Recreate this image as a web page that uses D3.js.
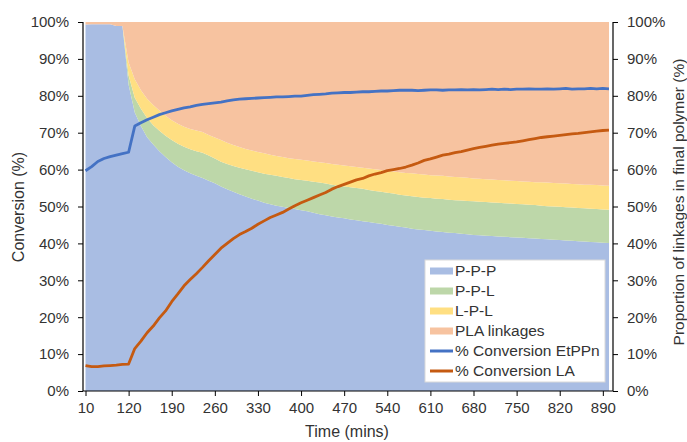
<!DOCTYPE html>
<html>
<head>
<meta charset="utf-8">
<script src="https://cdn.jsdelivr.net/npm/d3@7/dist/d3.min.js"></script>
<style>
  body { margin: 0; background: #fff; }
  svg text { font-family: "Liberation Sans", Arial, sans-serif; fill: #333; }
</style>
</head>
<body>
<svg id="chart" width="687" height="442"></svg>
<script>

// time points (mins), category axis
let times = [10, 25, 40, 55, 70, 85, 100, 120,
  130, 140, 150, 160, 170, 180, 190, 200, 210, 220, 230, 240, 250, 260, 270, 280, 290, 300,
  310, 320, 330, 340, 350, 360, 370, 380, 390, 400, 410, 420, 430, 440, 450, 460, 470, 480,
  490, 500, 510, 520, 530, 540, 550, 560, 570, 580, 590, 600, 610, 620, 630, 640, 650, 660,
  670, 680, 690, 700, 710, 720, 730, 740, 750, 760, 770, 780, 790, 800, 810, 820, 830, 840,
  850, 860, 870, 880, 890, 900];

// linkage proportions (%)
let ppp = [99.3, 99.4, 99.4, 99.4, 99.4, 98.9, 98.9, 83.0, 75.5, 71.8, 68.8, 66.8, 65.0, 63.4,
  62.0, 60.8, 59.8, 59.0, 58.3, 57.7, 57.0, 56.3, 55.4, 54.7, 54.0, 53.3, 52.7, 52.1, 51.6,
  51.0, 50.6, 50.2, 49.9, 49.6, 49.3, 49.0, 48.7, 48.3, 47.9, 47.6, 47.3, 47.0, 46.8, 46.5,
  46.3, 46.0, 45.8, 45.5, 45.3, 45.0, 44.8, 44.5, 44.3, 44.0, 43.8, 43.6, 43.4, 43.2, 43.1,
  42.9, 42.8, 42.6, 42.5, 42.3, 42.2, 42.1, 42.0, 41.9, 41.8, 41.7, 41.6, 41.5, 41.4, 41.3,
  41.2, 41.1, 41.0, 40.9, 40.8, 40.7, 40.6, 40.5, 40.4, 40.3, 40.2, 40.1];
let ppl = [0, 0, 0, 0, 0, 0, 0, 2.5, 4.0, 4.7, 5.2, 5.2, 5.5, 5.8, 6.0, 6.2, 6.4, 6.5, 6.7, 6.9,
  6.8, 6.7, 6.7, 6.8, 7.0, 7.2, 7.4, 7.6, 7.7, 7.9, 8.0, 8.1, 8.1, 8.1, 8.1, 8.2, 8.3, 8.4,
  8.6, 8.6, 8.6, 8.6, 8.6, 8.7, 8.7, 8.8, 8.7, 8.7, 8.7, 8.7, 8.7, 8.7, 8.7, 8.8, 8.8, 8.8,
  8.9, 8.9, 8.9, 8.9, 8.9, 9.0, 9.0, 9.1, 9.1, 9.1, 9.1, 9.1, 9.1, 9.1, 9.1, 9.1, 9.1, 9.1,
  9.0, 9.0, 9.0, 9.0, 9.0, 9.0, 9.0, 9.0, 9.0, 9.0, 9.0, 9.0];
let lpl = [0, 0, 0, 0, 0, 0, 0, 3.5, 5.0, 5.0, 5.2, 5.5, 5.5, 5.4, 5.4, 5.4, 5.4, 5.5, 5.6, 5.6,
  5.6, 5.7, 5.9, 5.8, 5.7, 5.6, 5.5, 5.5, 5.5, 5.5, 5.4, 5.4, 5.4, 5.4, 5.5, 5.5, 5.5, 5.5,
  5.5, 5.6, 5.6, 5.7, 5.7, 5.7, 5.7, 5.7, 5.8, 5.9, 5.9, 6.0, 6.0, 6.1, 6.1, 6.2, 6.2, 6.3,
  6.2, 6.3, 6.3, 6.3, 6.3, 6.3, 6.3, 6.2, 6.2, 6.2, 6.2, 6.2, 6.2, 6.2, 6.2, 6.2, 6.2, 6.2,
  6.4, 6.4, 6.4, 6.4, 6.4, 6.4, 6.4, 6.4, 6.5, 6.5, 6.5, 6.5];
let pla = [0.7, 0.6, 0.6, 0.6, 0.6, 1.1, 1.1, 11.0, 15.5, 18.5, 20.8, 22.5, 24.0, 25.4, 26.6,
  27.6, 28.4, 29.0, 29.4, 29.8, 30.6, 31.3, 32.0, 32.7, 33.3, 33.9, 34.4, 34.8, 35.2, 35.6,
  36.0, 36.3, 36.6, 36.9, 37.1, 37.3, 37.5, 37.8, 38.0, 38.2, 38.5, 38.7, 38.9, 39.1, 39.3,
  39.5, 39.7, 39.9, 40.1, 40.3, 40.5, 40.7, 40.9, 41.0, 41.2, 41.3, 41.5, 41.6, 41.7, 41.9,
  42.0, 42.1, 42.2, 42.4, 42.5, 42.6, 42.7, 42.8, 42.9, 43.0, 43.1, 43.2, 43.3, 43.4, 43.4,
  43.5, 43.6, 43.7, 43.8, 43.9, 44.0, 44.1, 44.1, 44.2, 44.3, 44.4];

// conversions (%)
let convEtPPn = [59.7, 60.8, 62.2, 63.0, 63.5, 63.9, 64.3, 64.7, 71.8, 72.7, 73.5, 74.2, 74.9,
  75.4, 75.9, 76.3, 76.7, 77.0, 77.4, 77.7, 77.9, 78.1, 78.3, 78.6, 78.9, 79.1, 79.2, 79.3,
  79.4, 79.5, 79.6, 79.7, 79.7, 79.8, 79.9, 79.9, 80.1, 80.3, 80.4, 80.5, 80.7, 80.8, 80.9,
  80.9, 81.0, 81.1, 81.1, 81.2, 81.3, 81.3, 81.4, 81.5, 81.5, 81.5, 81.4, 81.5, 81.6, 81.6,
  81.5, 81.6, 81.6, 81.7, 81.6, 81.7, 81.6, 81.7, 81.8, 81.7, 81.8, 81.7, 81.8, 81.8, 81.9,
  81.8, 81.8, 81.9, 81.8, 81.9, 82.0, 81.8, 81.9, 81.9, 82.0, 81.9, 82.0, 81.9];
let convLA = [6.9, 6.6, 6.6, 6.8, 6.9, 7.0, 7.2, 7.3, 11.5, 13.5, 15.8, 17.6, 19.8, 21.7, 24.2,
  26.3, 28.5, 30.2, 31.8, 33.5, 35.3, 37.0, 38.7, 40.0, 41.3, 42.4, 43.2, 44.1, 45.2, 46.1,
  47.0, 47.7, 48.4, 49.3, 50.2, 51.0, 51.7, 52.4, 53.1, 53.8, 54.7, 55.4, 56.0, 56.6, 57.2,
  57.6, 58.3, 58.8, 59.2, 59.7, 60.0, 60.3, 60.7, 61.2, 61.8, 62.5, 62.9, 63.4, 63.9, 64.2,
  64.6, 64.9, 65.3, 65.7, 66.0, 66.3, 66.6, 66.9, 67.1, 67.3, 67.5, 67.8, 68.1, 68.4, 68.7,
  68.9, 69.1, 69.3, 69.5, 69.7, 69.8, 70.0, 70.2, 70.4, 70.6, 70.7];

let yTicks = [0, 10, 20, 30, 40, 50, 60, 70, 80, 90, 100];

let areaNames = ["P-P-P", "P-P-L", "L-P-L", "PLA linkages"];
let areaColors = ["#a9bde3", "#bdd7a9", "#ffdf82", "#f7c3a0"];
let lineNames = ["% Conversion EtPPn", "% Conversion LA"];
let lineColors = ["#4472c4", "#c55a11"];

let chart = d3.select("#chart");

let plotLeft = 83, plotRight = 613, plotTop = 22, plotBottom = 391;

let x = d3.scalePoint()
    .domain(times)
    .range([85.5, 609]);

let y = d3.scaleLinear()
    .domain([0, 100])
    .range([plotBottom, plotTop]);

// stacked areas
let rows = times.map(function(t, i) {
  return { t: t, "P-P-P": ppp[i], "P-P-L": ppl[i], "L-P-L": lpl[i], "PLA linkages": pla[i] };
});
let stacked = d3.stack().keys(areaNames)(rows);

let area = d3.area()
    .x(function(d) { return x(d.data.t); })
    .y0(function(d) { return y(d[0]); })
    .y1(function(d) { return y(Math.min(d[1], 100)); });

chart.append("g")
  .selectAll("path")
  .data(stacked).enter()
  .append("path")
    .attr("d", area)
    .attr("fill", function(d, i) { return areaColors[i]; });

// conversion lines
let line = d3.line()
    .x(function(d, i) { return x(times[i]); })
    .y(function(d) { return y(d); });

chart.append("g")
  .selectAll("path")
  .data([convEtPPn, convLA]).enter()
  .append("path")
    .attr("d", line)
    .attr("fill", "none")
    .attr("stroke", function(d, i) { return lineColors[i]; })
    .attr("stroke-width", 2.8)
    .attr("stroke-linejoin", "round");

// axes
function styleAxis(g) {
  g.select(".domain").remove();
  g.selectAll(".tick line").attr("stroke", "#000").attr("stroke-width", 1);
  g.selectAll(".tick text").style("font-size", "15px").attr("fill", "#333");
}

let pct = function(d) { return d + "%"; };

chart.append("g")
  .attr("transform", "translate(" + plotLeft + ",0)")
  .call(d3.axisLeft(y).tickValues(yTicks).tickFormat(pct).tickSize(5).tickPadding(9))
  .call(styleAxis);

chart.append("g")
  .attr("transform", "translate(" + plotRight + ",0)")
  .call(d3.axisRight(y).tickValues(yTicks).tickFormat(pct).tickSize(5).tickPadding(9))
  .call(styleAxis);

let xLabels = times.filter(function(d, i) { return i % 7 === 0; });
chart.append("g")
  .attr("transform", "translate(0," + plotBottom + ")")
  .call(d3.axisBottom(x).tickValues(xLabels).tickSize(5).tickPadding(6))
  .call(styleAxis);

// axis lines
chart.append("line").attr("x1", plotLeft).attr("x2", plotLeft).attr("y1", plotTop).attr("y2", plotBottom)
  .attr("stroke", "#000").attr("stroke-width", 1.2);
chart.append("line").attr("x1", plotRight).attr("x2", plotRight).attr("y1", plotTop).attr("y2", plotBottom)
  .attr("stroke", "#000").attr("stroke-width", 1.2);
chart.append("line").attr("x1", plotLeft).attr("x2", plotRight).attr("y1", plotBottom).attr("y2", plotBottom)
  .attr("stroke", "#000").attr("stroke-width", 1.2);

// axis titles
chart.append("text")
  .attr("transform", "translate(24,207) rotate(-90)")
  .attr("text-anchor", "middle")
  .style("font-size", "16px")
  .text("Conversion (%)");

chart.append("text")
  .attr("transform", "translate(684,202) rotate(-90)")
  .attr("text-anchor", "middle")
  .style("font-size", "15.5px")
  .text("Proportion of linkages in final polymer (%)");

chart.append("text")
  .attr("x", 347).attr("y", 437)
  .attr("text-anchor", "middle")
  .style("font-size", "16px")
  .text("Time (mins)");

// legend
let legend = chart.append("g").attr("transform", "translate(425,260)");
legend.append("rect")
  .attr("width", 180).attr("height", 122)
  .attr("fill", "#fff").attr("stroke", "#d9d9d9");

let entries = areaNames.map(function(n, i) { return { name: n, color: areaColors[i], type: "area" }; })
  .concat(lineNames.map(function(n, i) { return { name: n, color: lineColors[i], type: "line" }; }));

let item = legend.selectAll("g.item")
  .data(entries).enter()
  .append("g")
    .attr("class", "item")
    .attr("transform", function(d, i) { return "translate(5," + (11 + i * 20) + ")"; });

item.filter(function(d) { return d.type === "area"; })
  .append("rect")
    .attr("x", 0).attr("y", -3.5).attr("width", 23).attr("height", 7)
    .attr("fill", function(d) { return d.color; });

item.filter(function(d) { return d.type === "line"; })
  .append("line")
    .attr("x1", 0).attr("x2", 23).attr("y1", 0).attr("y2", 0)
    .attr("stroke", function(d) { return d.color; })
    .attr("stroke-width", 3);

item.append("text")
  .attr("x", 25).attr("dy", "0.35em")
  .style("font-size", "15.5px")
  .text(function(d) { return d.name; });

</script>
</body>
</html>
